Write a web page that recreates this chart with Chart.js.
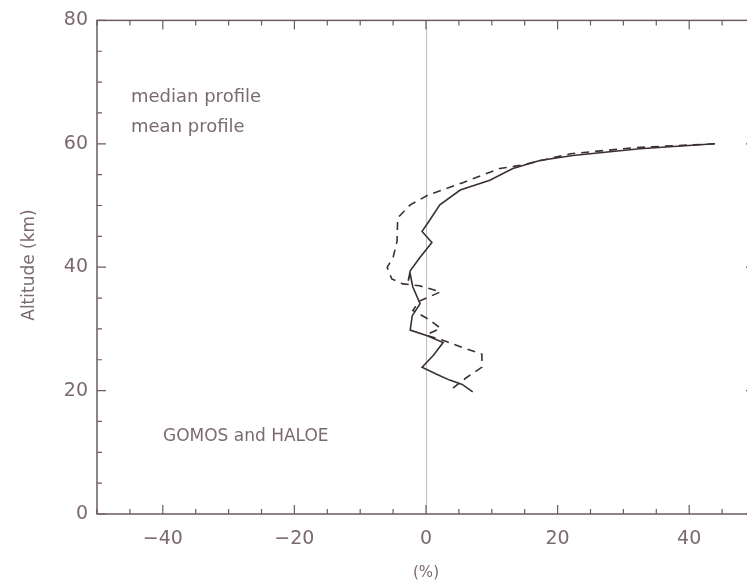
<!DOCTYPE html>
<html>
<head>
<meta charset="utf-8">
<script src="https://cdn.jsdelivr.net/npm/chart.js@4"></script>
<style>
  html, body { margin: 0; padding: 0; background: #fff; overflow: hidden; }
  #wrap { width: 780px; height: 585px; }
</style>
</head>
<body>
<div id="wrap"><canvas id="profile" width="780" height="585"></canvas></div>
<script>
// relative difference (%) vs altitude (km)
var medianDiff = [43.9, 32.5, 22.3, 17.3, 13.2, 9.7, 5.2, 2.1, 0.3, -0.6, 0.9, -0.9, -2.4, -2.7, -2.4, -2.0, -0.9, -2.1, -2.4, 0.2, 2.6, 1.1, -0.6, 1.7, 3.6, 5.5, 7.1];
var medianAlt  = [60.0, 59.2, 58.1, 57.3, 56.0, 54.1, 52.5, 50.1, 47.2, 45.8, 44.0, 41.6, 39.4, 37.8, 38.9, 36.8, 34.1, 32.1, 29.8, 28.9, 27.8, 25.7, 23.8, 22.6, 21.7, 21.0, 19.8];

var meanDiff = [43.9, 32.0, 22.0, 14.3, 11.2, 5.6, 0.3, -2.4, -4.3, -4.4, -5.0, -5.9, -5.2, -3.5, -1.0, 2.2, -1.0, -2.0, 0.5, 2.2, 0.0, 3.0, 5.5, 8.5, 8.5, 6.0, 4.0];
var meanAlt  = [60.0, 59.4, 58.4, 56.5, 56.0, 53.7, 51.7, 50.1, 48.0, 44.2, 41.6, 40.0, 38.1, 37.3, 37.0, 36.0, 34.5, 33.0, 31.5, 30.1, 29.0, 28.0, 27.0, 25.9, 23.8, 22.0, 20.3];

var xTicks = [-40, -20, 0, 20, 40];
var yTicks = [0, 20, 40, 60, 80];

var inkText = '#7a6a6e';
var inkAxis = '#6a5c60';
var inkLine = '#3a3032';

function toPoints(xs, ys) {
    var pts = [];
    for (var i = 0; i < xs.length; i++) pts.push({ x: xs[i], y: ys[i] });
    return pts;
}

function fmt(v) {
    return v < 0 ? '\u2212' + Math.abs(v) : String(v);
}

// box frame, inward ticks and the text labels
var framePlugin = {
    id: 'frame',
    afterDraw: function (chart) {
        var c = chart.ctx, a = chart.chartArea;
        var sx = chart.scales.x, sy = chart.scales.y;
        c.save();
        c.strokeStyle = inkAxis;
        c.lineWidth = 1.5;
        c.strokeRect(a.left, a.top, a.right - a.left, a.bottom - a.top);

        c.lineWidth = 1.2;
        c.beginPath();
        for (var v = -50; v <= 50; v += 5) {
            var px = sx.getPixelForValue(v);
            var len = (v % 20 === 0) ? 9 : 5;
            c.moveTo(px, a.bottom); c.lineTo(px, a.bottom - len);
            c.moveTo(px, a.top); c.lineTo(px, a.top + len);
        }
        for (var w = 0; w <= 80; w += 5) {
            var py = sy.getPixelForValue(w);
            var l2 = (w % 20 === 0) ? 9 : 5;
            c.moveTo(a.left, py); c.lineTo(a.left + l2, py);
            c.moveTo(a.right, py); c.lineTo(a.right - l2, py);
        }
        c.stroke();

        c.fillStyle = inkText;
        c.textBaseline = 'middle';
        c.textAlign = 'left';
        c.font = '18px "DejaVu Sans"';
        c.fillText('median profile', 131, 97);
        c.fillText('mean profile', 131, 127);
        c.font = '17px "DejaVu Sans"';
        c.fillText('GOMOS and HALOE', 163, 437);

        c.textAlign = 'center';
        c.font = '15px "DejaVu Sans"';
        c.fillText('(%)', sx.getPixelForValue(0), 573);

        c.translate(30, 265);
        c.rotate(-Math.PI / 2);
        c.font = '17px "DejaVu Sans"';
        c.fillText('Altitude (km)', 0, 0);
        c.restore();
    }
};

var ctx = document.getElementById('profile').getContext('2d');
var chart = new Chart(ctx, {
    type: 'scatter',
    data: {
        datasets: [{
            label: 'median profile',
            data: toPoints(medianDiff, medianAlt),
            showLine: true,
            borderColor: inkLine,
            borderWidth: 1.6,
            pointRadius: 0,
            tension: 0
        }, {
            label: 'mean profile',
            data: toPoints(meanDiff, meanAlt),
            showLine: true,
            borderColor: inkLine,
            borderWidth: 1.6,
            borderDash: [8, 6],
            pointRadius: 0,
            tension: 0
        }]
    },
    options: {
        responsive: false,
        animation: false,
        layout: { padding: { left: 0, right: 25, top: 13, bottom: 0 } },
        plugins: {
            legend: { display: false },
            tooltip: { enabled: false }
        },
        scales: {
            x: {
                type: 'linear',
                min: -50,
                max: 50,
                afterFit: function (s) { s.height = 71; },
                afterBuildTicks: function (s) {
                    s.ticks = xTicks.map(function (v) { return { value: v }; });
                },
                border: { display: false },
                grid: {
                    drawTicks: false,
                    color: function (c) { return c.tick && c.tick.value === 0 ? '#c4bcbe' : 'rgba(0,0,0,0)'; },
                    lineWidth: 1
                },
                ticks: {
                    padding: 14,
                    color: inkText,
                    font: { family: 'DejaVu Sans', size: 19 },
                    callback: function (v) { return fmt(v); }
                }
            },
            y: {
                type: 'linear',
                min: 0,
                max: 80,
                afterFit: function (s) { s.width = 97; },
                afterBuildTicks: function (s) {
                    s.ticks = yTicks.map(function (v) { return { value: v }; });
                },
                border: { display: false },
                grid: { display: false, drawTicks: false },
                ticks: {
                    padding: 9,
                    color: inkText,
                    font: { family: 'DejaVu Sans', size: 19 },
                    callback: function (v) { return fmt(v); }
                }
            }
        }
    },
    plugins: [framePlugin]
});
</script>
</body>
</html>
